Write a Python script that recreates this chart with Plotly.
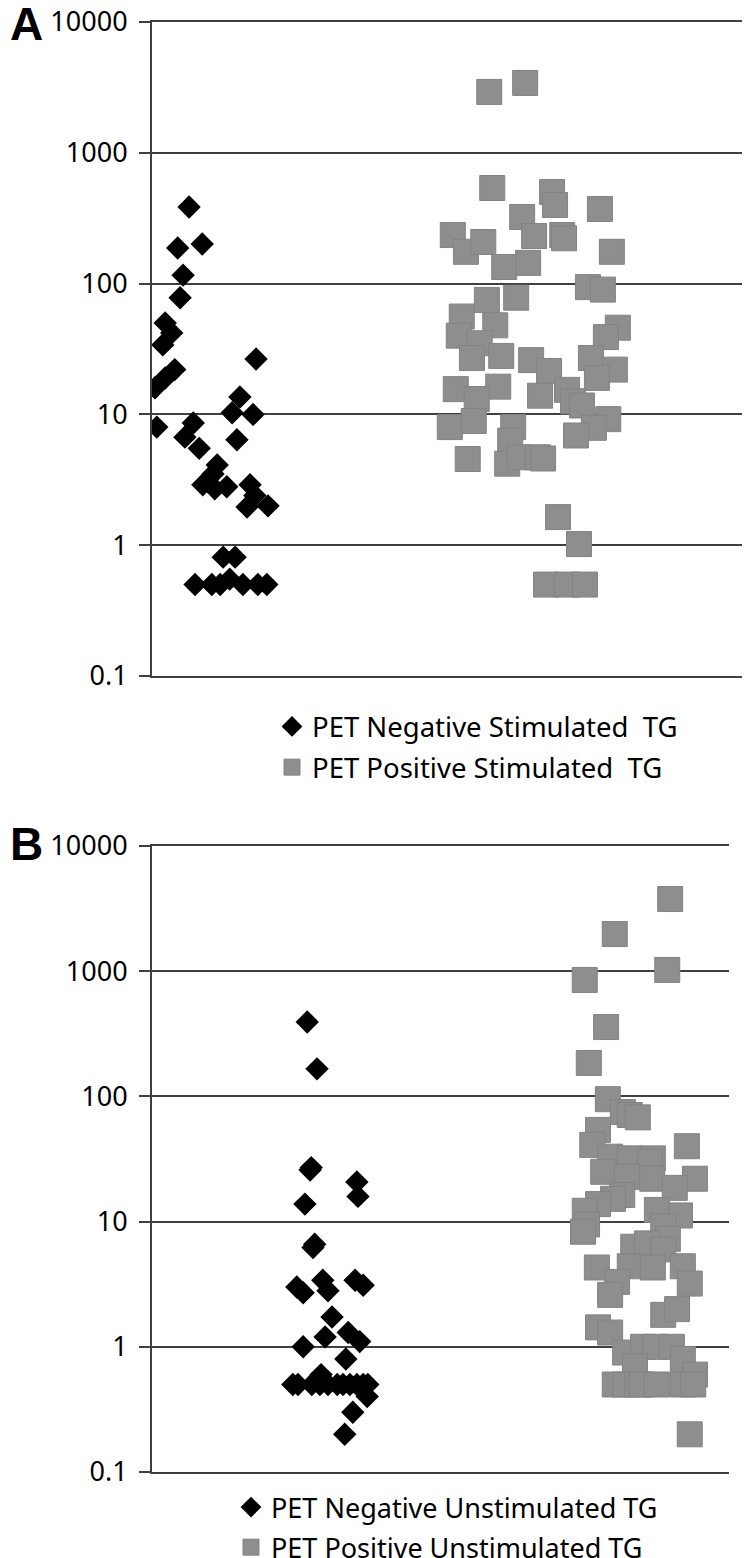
import plotly.graph_objects as go

# ---------------- Panel A: stimulated TG ----------------
a_neg_x = [0.62, 0.84, 0.43, 0.52, 0.47, 0.22, 0.33, 0.18, 1.74, 0.38,
           0.22, 0.05, 1.47, 1.34, 1.69, 0.08, 0.69, 0.55, 1.42, 0.79,
           1.09, 1.02, 0.85, 1.05, 1.25, 1.64, 1.72, 1.59, 1.94, 1.19,
           1.39, 0.72, 1.00, 1.14, 1.30, 1.52, 1.77, 1.92]
a_neg_y = [385, 201, 187, 116, 78, 50, 42, 34, 26.5, 22,
           19, 16, 13.6, 10.3, 10, 8.0, 8.6, 6.7, 6.4, 5.5,
           4.1, 3.5, 2.9, 2.7, 2.8, 2.9, 2.4, 1.96, 2.0, 0.81,
           0.81, 0.5, 0.5, 0.5, 0.55, 0.5, 0.5, 0.5]

a_pos_x = [5.64, 6.24, 5.69, 6.69, 6.74, 7.49, 6.19, 5.03, 5.25, 5.54,
           6.39, 6.86, 6.89, 7.69, 5.89, 6.29, 7.29, 7.54, 5.60, 6.09,
           5.18, 5.74, 5.13, 5.48, 7.79, 7.59, 5.35, 5.84, 6.34, 6.64,
           7.34, 7.74, 7.44, 5.08, 5.79, 5.43, 6.49, 6.94, 7.04, 7.19,
           4.98, 5.38, 6.04, 7.63, 7.39, 7.09, 5.99, 5.28, 5.94, 6.15,
           6.45, 6.54, 6.79, 7.14, 6.59, 6.94, 7.24]
a_pos_y = [2920, 3420, 538, 502, 399, 372, 323, 235, 175, 208,
           231, 235, 222, 175, 134, 144, 94, 90, 75, 78,
           56, 48, 40, 35, 46, 39, 27, 28, 26, 21.5,
           27, 22, 19, 15.6, 16.3, 13.1, 13.9, 15.4, 12.6, 11.7,
           8.0, 8.9, 8.0, 9.2, 7.9, 6.9, 6.3, 4.56, 4.2, 4.7,
           4.7, 4.6, 1.64, 1.02, 0.5, 0.5, 0.5]

# ---------------- Panel B: unstimulated TG ----------------
b_neg_x = [2.69, 2.86, 2.74, 2.76, 2.65, 3.55, 3.57, 2.82, 2.79, 2.51,
           2.62, 2.96, 3.05, 3.52, 3.66, 3.12, 3.00, 3.40, 3.60, 2.62,
           3.36, 2.93, 2.44, 2.53, 2.77, 2.91, 3.05, 3.21, 3.31, 3.43,
           3.55, 3.66, 3.74, 3.73, 3.48, 3.34]
b_neg_y = [393, 166, 25.8, 27, 13.8, 20.7, 15.9, 6.6, 6.2, 3.0,
           2.7, 3.4, 2.8, 3.4, 3.1, 1.73, 1.2, 1.3, 1.1, 1.0,
           0.8, 0.6, 0.5, 0.5, 0.5, 0.5, 0.5, 0.5, 0.5, 0.5,
           0.5, 0.5, 0.5, 0.4, 0.3, 0.2]

b_pos_x = [8.98, 8.02, 7.50, 8.93, 7.87, 7.57, 7.90, 8.16, 8.28, 8.42,
           7.73, 7.63, 9.27, 7.94, 8.28, 8.68, 7.82, 8.63, 8.23, 8.67,
           9.41, 9.06, 8.15, 7.99, 7.73, 7.50, 9.15, 8.75, 7.54, 7.47,
           8.86, 8.94, 8.34, 8.58, 8.86, 7.71, 8.28, 8.68, 9.20, 9.32,
           8.06, 7.94, 8.86, 9.10, 7.73, 7.94, 8.20, 8.51, 8.72, 9.01,
           9.20, 8.37, 9.41, 8.02, 8.20, 8.41, 8.49, 8.75, 9.20, 9.38,
           9.32]
b_pos_y = [3770, 1980, 851, 1023, 358, 185, 95, 75, 71, 68,
           54, 41, 40, 33, 32, 32, 25, 30, 22.8, 22,
           22, 18.6, 16.3, 15.2, 13.8, 12.2, 11.2, 12.4, 9.5, 8.3,
           9.2, 7.3, 6.3, 6.7, 6.0, 4.3, 4.4, 4.3, 4.4, 3.2,
           3.3, 2.6, 1.8, 2.0, 1.43, 1.3, 0.9, 1.0, 1.0, 1.0,
           0.8, 0.7, 0.6, 0.5, 0.5, 0.5, 0.5, 0.5, 0.5, 0.5,
           0.2]

tick_vals = [0.1, 1, 10, 100, 1000, 10000]
tick_text = ["0.1", "1", "10", "100", "1000", "10000"]

names_a = ["PET Negative Stimulated  TG", "PET Positive Stimulated  TG"]
names_b = ["PET Negative Unstimulated TG", "PET Positive Unstimulated TG"]

# The page body has an 8px margin, so the figure is 8px smaller than the window
OFF = 8
W, H = 750 - OFF, 1558 - OFF
AX = "#404040"
GREY = "#8e8e8e"
FONT = "Noto Sans"


def fx(px):
    return (px - OFF) / W


def fy(py):
    return 1 - (py - OFF) / H


diamond = dict(symbol="diamond", size=18, color="black", line=dict(width=0))
square = dict(symbol="square", size=25, color=GREY, line=dict(width=1, color="#838383"))

fig = go.Figure()
fig.add_trace(go.Scatter(x=a_neg_x, y=a_neg_y, mode="markers", name=names_a[0],
                         marker=diamond, xaxis="x", yaxis="y", legend="legend",
                         legendgroup="a1"))
fig.add_trace(go.Scatter(x=a_pos_x, y=a_pos_y, mode="markers", name=names_a[1],
                         marker=square, xaxis="x", yaxis="y", legend="legend",
                         legendgroup="a2"))
fig.add_trace(go.Scatter(x=b_neg_x, y=b_neg_y, mode="markers", name=names_b[0],
                         marker=diamond, xaxis="x2", yaxis="y2", legend="legend2",
                         legendgroup="b1"))
fig.add_trace(go.Scatter(x=b_pos_x, y=b_pos_y, mode="markers", name=names_b[1],
                         marker=square, xaxis="x2", yaxis="y2", legend="legend2",
                         legendgroup="b2"))


def yax(top_px, bot_px):
    return dict(type="log", range=[-1, 4], domain=[fy(bot_px), fy(top_px)],
                tickvals=tick_vals, ticktext=tick_text, automargin=False,
                ticklabeloverflow="allow",
                showgrid=True, gridcolor=AX, gridwidth=2,
                showline=True, linecolor=AX, linewidth=2,
                ticks="outside", ticklen=11, tickwidth=2, tickcolor=AX,
                tickfont=dict(family=FONT, size=27, color="black"),
                ticklabelstandoff=6, zeroline=False)


def xax(left_px, right_px, anchor):
    return dict(domain=[fx(left_px), min(fx(right_px), 1)], range=[0, 10], anchor=anchor,
                automargin=False, showgrid=False, zeroline=False,
                showticklabels=False, ticks="",
                showline=True, mirror=True, linecolor=AX, linewidth=2)


fig.update_layout(
    width=W, height=H,
    margin=dict(l=0, r=0, t=0, b=0, autoexpand=False),
    paper_bgcolor="white", plot_bgcolor="white",
    xaxis=xax(152, 750, "y"),
    yaxis=yax(22, 676),
    xaxis2=xax(152, 729, "y2"),
    yaxis2=yax(846, 1472),
    legend=dict(x=fx(272), y=fy(702), xanchor="left", yanchor="top",
                font=dict(family=FONT, size=27.5, color="black"),
                traceorder="grouped", tracegroupgap=2,
                bgcolor="rgba(0,0,0,0)"),
    legend2=dict(x=fx(231), y=fy(1483), xanchor="left", yanchor="top",
                 font=dict(family=FONT, size=27, color="black"),
                 traceorder="grouped", tracegroupgap=2,
                 bgcolor="rgba(0,0,0,0)"),
    showlegend=True,
    annotations=[
        dict(text="<b>A</b>", x=0, y=fy(24), xref="paper", yref="paper",
             xanchor="left", yanchor="middle", showarrow=False,
             font=dict(family="Liberation Sans", size=46, color="black")),
        dict(text="<b>B</b>", x=0, y=fy(844), xref="paper", yref="paper",
             xanchor="left", yanchor="middle", showarrow=False,
             font=dict(family="Liberation Sans", size=46, color="black")),
    ],
)

fig.write_html("out.html")
